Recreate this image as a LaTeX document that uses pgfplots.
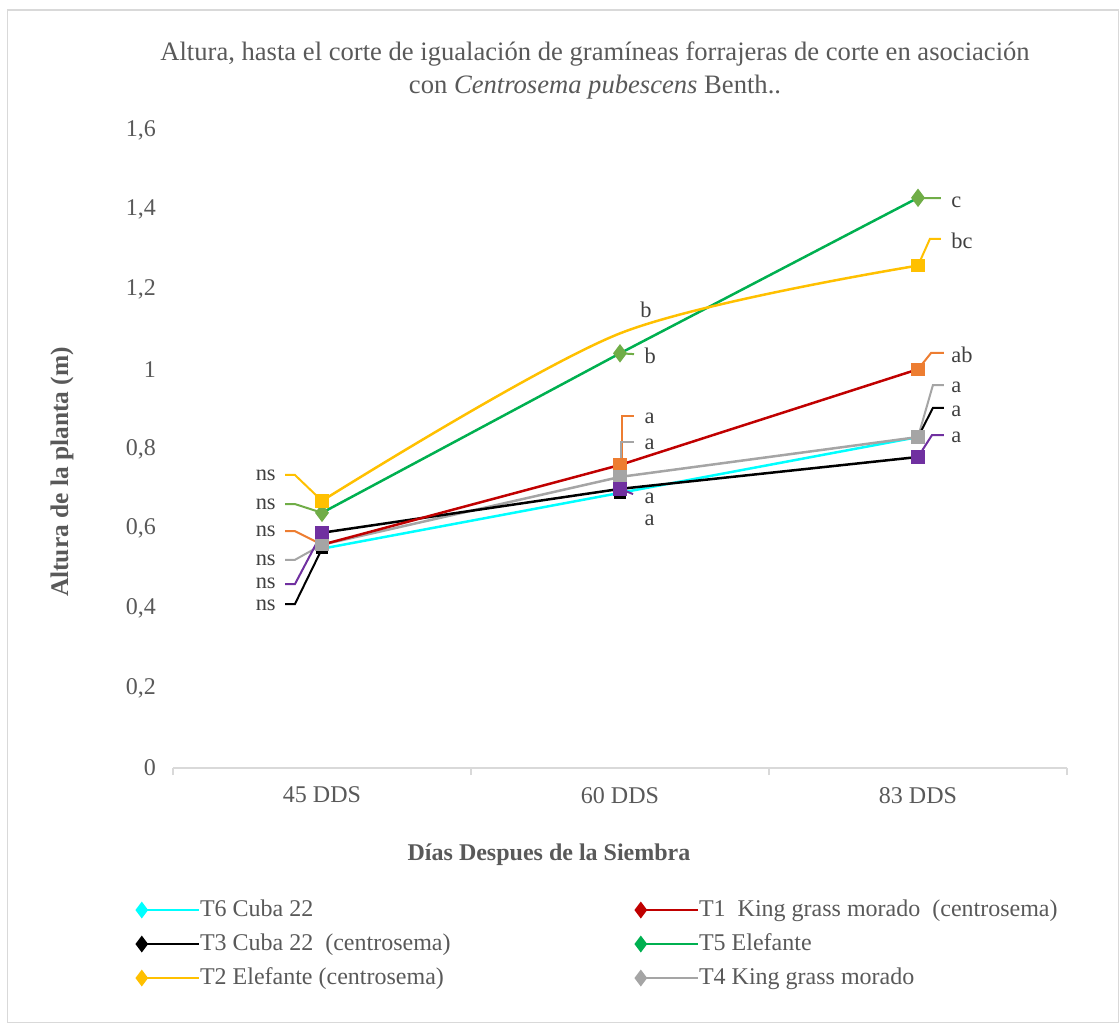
\documentclass[border=0pt]{standalone}
\usepackage{pgfplots}
\pgfplotsset{compat=1.18}
\usepackage{fontspec}
\setmainfont{Liberation Serif}
\definecolor{txt}{HTML}{595959}
\definecolor{lbl}{HTML}{404040}
\definecolor{framec}{HTML}{D9D9D9}
\definecolor{cyanl}{HTML}{00FFFF}
\definecolor{redl}{HTML}{C00000}
\definecolor{greenl}{HTML}{00B050}
\definecolor{yellowl}{HTML}{FFC000}
\definecolor{grayl}{HTML}{A5A5A5}
\definecolor{orangem}{HTML}{ED7D31}
\definecolor{purplem}{HTML}{7030A0}
\definecolor{greenm}{HTML}{70AD47}
\begin{document}
\fontsize{11.5}{13.8}\selectfont
\begin{tikzpicture}
\path[use as bounding box] (0pt,0pt) rectangle (559.5pt,-511.5pt);
\draw[framec, line width=0.6pt] (3.8pt,-5pt) -- (559.2pt,-5pt) -- (559.2pt,-511.2pt) -- (3.8pt,-511.2pt) -- cycle;
\node[align=center, text=txt, font=\fontsize{13.3}{16.5}\selectfont] at (297.5pt,-35pt)
  {Altura, hasta el corte de igualación de gramíneas forrajeras de corte en asociación\\
   con \textit{Centrosema pubescens} Benth..};
\node[rotate=90, text=txt, font=\fontsize{12.7}{14}\selectfont\bfseries] at (31pt,-236pt) {Altura de la planta (m)};
\node[text=txt, font=\fontsize{12}{14}\selectfont\bfseries] at (274.5pt,-427.5pt) {Días Despues de la Siembra};
\begin{axis}[
  at={(86.5pt,-384pt)}, anchor=south west,
  scale only axis, width=447pt, height=319pt,
  xmin=-0.5, xmax=2.5, ymin=0, ymax=1.6,
  clip=false,
  axis lines*=left,
  y axis line style={draw=none},
  x axis line style={draw=framec, line width=0.8pt},
  xtick={0,1,2}, xticklabels={45 DDS,60 DDS,83 DDS},
  major tick length=0pt,
  extra x ticks={-0.5,0.5,1.5,2.5}, extra x tick labels={},
  extra x tick style={major tick length=3.5pt, tick align=outside, tick style={draw=framec, line width=0.8pt}},
  ytick={0,0.2,0.4,0.6,0.8,1,1.2,1.4,1.6},
  ytick style={draw=none},
  tick label style={text=txt, font=\fontsize{12}{14}\selectfont},
  xticklabel style={yshift=-5.5pt},
  yticklabel style={xshift=-4.5pt},
  /pgf/number format/assume math mode=true,
  /pgf/number format/use comma,
  /pgf/number format/fixed,
  legend cell align=left,
  legend columns=2,
  legend style={at={(axis description cs:-0.0403,-0.2038)}, anchor=north west,
    draw=none, fill=none, inner sep=0pt, outer sep=0pt,
    column sep=0pt, row sep=5pt,
    nodes={inner sep=0pt, text height=9pt, text depth=3pt, text=txt, font=\fontsize{12}{14}\selectfont}},
  legend image code/.code={
    \path (0pt,0pt) -- (28.5pt,0pt);
    \draw[#1, mark indices={1}] plot coordinates {(0pt,0pt) (26.5pt,0pt)};
  },
  every axis plot/.append style={line width=1.25pt},
]
% legend entries
\addlegendimage{cyanl, mark=diamond*, mark size=3.2pt, mark options={fill=cyanl}}
\addlegendentry{\makebox[218pt][l]{T6 Cuba 22}}
\addlegendimage{redl, mark=diamond*, mark size=3.2pt}
\addlegendentry{T1\ \ King grass morado\ \ (centrosema)}
\addlegendimage{black, mark=diamond*, mark size=3.2pt}
\addlegendentry{\makebox[218pt][l]{T3 Cuba 22\ \ (centrosema)}}
\addlegendimage{greenl, mark=diamond*, mark size=3.2pt}
\addlegendentry{T5 Elefante}
\addlegendimage{yellowl, mark=diamond*, mark size=3.2pt}
\addlegendentry{\makebox[218pt][l]{T2 Elefante (centrosema)}}
\addlegendimage{grayl, mark=diamond*, mark size=3.2pt}
\addlegendentry{T4 King grass morado}
% lines
\addplot[forget plot, cyanl] coordinates {(0,0.55) (1,0.69) (2,0.83)};
\addplot[forget plot, grayl] coordinates {(0,0.56) (1,0.73) (2,0.83)};
\addplot[forget plot, black] coordinates {(0,0.59) (1,0.70) (2,0.78)};
\addplot[forget plot, redl] coordinates {(0,0.56) (1,0.76) (2,1.00)};
\addplot[forget plot, greenl] coordinates {(0,0.64) (1,1.04) (2,1.43)};
\addplot[forget plot, yellowl, smooth, tension=0.5] coordinates {(0,0.67) (1,1.09) (2,1.26)};
% leader lines
\pgfplotsset{ldr/.style={forget plot, line width=1pt, mark=none, #1}}
\addplot[ldr=yellowl] coordinates {(-0.124,0.735) (-0.091,0.735) (0,0.67)};
\addplot[ldr=greenm] coordinates {(-0.124,0.662) (-0.091,0.662) (0,0.64)};
\addplot[ldr=orangem] coordinates {(-0.124,0.594) (-0.091,0.594) (0,0.56)};
\addplot[ldr=grayl] coordinates {(-0.124,0.522) (-0.091,0.522) (0,0.56)};
\addplot[ldr=purplem] coordinates {(-0.124,0.461) (-0.091,0.461) (0,0.59)};
\addplot[ldr=black] coordinates {(-0.124,0.411) (-0.091,0.411) (0,0.55)};
\addplot[ldr=greenm] coordinates {(1,1.04) (1.047,1.038)};
\addplot[ldr=orangem] coordinates {(1.007,0.76) (1.007,0.883) (1.047,0.883)};
\addplot[ldr=grayl] coordinates {(1.004,0.73) (1.004,0.818) (1.047,0.818)};
\addplot[ldr=purplem] coordinates {(1,0.70) (1.044,0.687)};
\addplot[ldr=greenm] coordinates {(2,1.43) (2.03,1.429) (2.077,1.429)};
\addplot[ldr=yellowl] coordinates {(2,1.26) (2.04,1.327) (2.077,1.327)};
\addplot[ldr=orangem] coordinates {(2,1.00) (2.044,1.041) (2.087,1.041)};
\addplot[ldr=grayl] coordinates {(2,0.83) (2.05,0.960) (2.087,0.960)};
\addplot[ldr=black] coordinates {(2,0.83) (2.05,0.903) (2.087,0.903)};
\addplot[ldr=purplem] coordinates {(2,0.78) (2.047,0.835) (2.087,0.835)};
% markers
\pgfplotsset{mk/.style={forget plot, only marks, mark=square*, mark size=2.7pt, #1, mark options={fill=#1, draw=#1}}}
\addplot[mk=black, mark size=2.2pt] coordinates {(0,0.55) (1,0.69) (2,0.83)};
\addplot[mk=orangem] coordinates {(0,0.56) (1,0.76) (2,1.00)};
\addplot[mk=grayl] coordinates {(0,0.56) (1,0.73) (2,0.83)};
\addplot[mk=purplem] coordinates {(0,0.59) (1,0.70) (2,0.78)};
\addplot[mk=greenm, mark=diamond*, mark size=3.6pt] coordinates {(0,0.64) (1,1.04) (2,1.43)};
\addplot[mk=yellowl] coordinates {(0,0.67) (2,1.26)};
% data labels
\tikzset{dl/.style={inner sep=0pt, text=lbl, font=\fontsize{11.2}{13}\selectfont}}
\node[dl, anchor=east] at (axis cs:-0.154,0.735) {ns};
\node[dl, anchor=east] at (axis cs:-0.154,0.662) {ns};
\node[dl, anchor=east] at (axis cs:-0.154,0.594) {ns};
\node[dl, anchor=east] at (axis cs:-0.154,0.522) {ns};
\node[dl, anchor=east] at (axis cs:-0.154,0.463) {ns};
\node[dl, anchor=east] at (axis cs:-0.154,0.409) {ns};
\node[dl, anchor=west] at (axis cs:1.067,1.149) {b};
\node[dl, anchor=west] at (axis cs:1.081,1.033) {b};
\node[dl, anchor=west] at (axis cs:1.081,0.878) {a};
\node[dl, anchor=west] at (axis cs:1.081,0.8125) {a};
\node[dl, anchor=west] at (axis cs:1.081,0.677) {a};
\node[dl, anchor=west] at (axis cs:1.081,0.62) {a};
\node[dl, anchor=west] at (axis cs:2.111,1.419) {c};
\node[dl, anchor=west] at (axis cs:2.111,1.321) {bc};
\node[dl, anchor=west] at (axis cs:2.111,1.036) {ab};
\node[dl, anchor=west] at (axis cs:2.111,0.955) {a};
\node[dl, anchor=west] at (axis cs:2.111,0.895) {a};
\node[dl, anchor=west] at (axis cs:2.111,0.830) {a};
\end{axis}
\end{tikzpicture}
\end{document}
